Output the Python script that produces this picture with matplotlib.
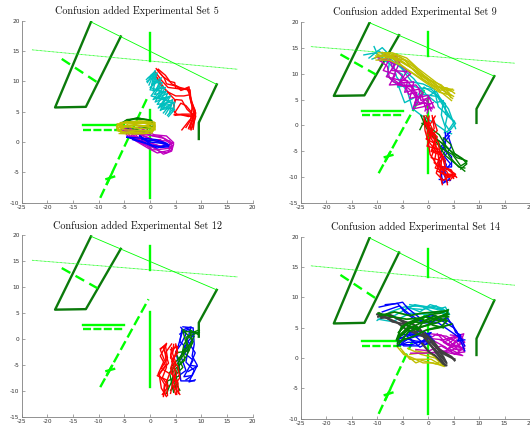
import matplotlib
matplotlib.use('Agg')
from matplotlib import pyplot as plt

plt.rcParams['axes.unicode_minus'] = False

#======================================================
#! scene lines, the same in all four panels
wall_left_x = [-11.5, -18.5, -12.5, -5.7]
wall_left_y = [19.8, 5.7, 5.8, 17.4]
wall_right_x = [13, 9.5, 9.5]
wall_right_y = [9.5, 3.2, 0.5]
thin_x = [-11.5, 13]
thin_y = [19.8, 9.5]
dotted_x = [-23, 17]
dotted_y = [15.2, 12]
centre_top_x = [0, 0]
centre_top_y = [18, 13.4]
centre_low_x = [0, 0]
centre_low_y = [5.2, -9.2]
solid_bar_x = [-13, -5]
solid_bar_y = [2.8, 2.8]
dash_bar_x = [-13, -5]
dash_bar_y = [2, 2]
dash_diag_x = [-9.7, -0.3]
dash_diag_y = [-9.2, 7.7]
dash_upper_x = [-17.2, -10.2]
dash_upper_y = [13.7, 9.8]
cross_x = [-8.5, -7]
cross_y = [-6.1, -5.7]
cross_stem_x = [-8.4, -7.4]
cross_stem_y = [-6.9, -5.1]

#======================================================
#! tracks, set 5
s5_red = [
    [(1.2, 12.1), (2.5, 10.8), (3.8, 10), (4.8, 9.8), (5, 8.9), (6.5, 8.7), (7.6, 9.1), (7.8, 7.2), (8.8, 5.2), (8.3, 3.6), (7.5, 2.2)],
    [(1.4, 11.9), (2.8, 10.5), (3.2, 9.6), (5.2, 9.2), (6, 8.5), (7.4, 8.9), (7.9, 6.8), (8.9, 4.8), (8.6, 3.2), (8.4, 2.1)],
    [(1, 11.6), (2.2, 10.2), (3.5, 9), (5.4, 8.8), (7.8, 8.6), (8, 6.5), (8.6, 4.5), (7.5, 3.4), (6.2, 2)],
    [(0.9, 11.2), (3, 8.6), (4.8, 7), (4.6, 5.2), (5.2, 4.6), (7.2, 4.4), (8.4, 4.2), (7.6, 2.4)],
    [(4.6, 6), (5, 7), (6.2, 6.9), (7.2, 5.4), (8.2, 4.6), (8.8, 4.4)],
    [(4.8, 4.8), (6, 6.4), (7, 6), (8, 5), (8.6, 3.8), (8, 2)],
    [(4.7, 4.5), (6, 4.5), (7.5, 4.2), (8.7, 4.4)],
    [(1.6, 12), (3, 11), (4.2, 9.6), (5.8, 9), (7.2, 8.7), (7.7, 8), (8.5, 5.6), (8.9, 4.2), (8.2, 2.4)],
    [(1.1, 11), (2, 9.4), (3.6, 8.2), (5, 7.6), (6.6, 7.6), (7.8, 7.8), (8.2, 5.8), (7.9, 3.6), (7, 2.4)],
    [(4.9, 4.4), (6.2, 4.6), (7.8, 4.6), (8.8, 4.7), (8.1, 3.2), (7.8, 2.1)],
]
s5_cyan = [
    [(-0.7, 10.3), (0.9, 11.6), (0.3, 9.4), (2.2, 10.6), (1.2, 8.6), (3, 9), (1.6, 7.2), (3.6, 7.4), (2, 6), (4.2, 6.2), (3, 4.6)],
    [(-0.5, 9.8), (0.5, 11.2), (1.2, 11), (0.6, 8.4), (2.6, 9.2), (1, 6.6), (4, 7.6), (2.4, 5.4), (4.6, 5.6), (3.4, 4.4)],
    [(-0.3, 10.6), (1.4, 11.4), (0, 8.6), (2, 8.4), (0.6, 7), (3.4, 8), (2, 5.2), (4.8, 6.6), (4.4, 5)],
    [(-0.6, 10), (0.8, 10.8), (1.8, 9.4), (0.2, 7.6), (2.8, 7), (1.6, 5.6), (4.4, 7), (3.8, 4.8)],
    [(-0.2, 9.4), (1, 11.8), (0.5, 10), (2.4, 9.8), (0.8, 7.8), (3.2, 8.4), (1.4, 6.2), (4.4, 6.6), (2.6, 4.8)],
    [(0.2, 11), (1.6, 10), (0, 9), (2.8, 8.2), (1.2, 7.2), (3.8, 6.8), (2.2, 5.8), (4.8, 5.4), (3.6, 4.2)],
]
s5_olive = [
    [(-6.4, 2.2), (-5, 3.2), (-2.5, 3.3), (0, 3.2), (1, 2.6), (0.6, 1.8), (-2, 1.6), (-5, 1.6), (-6.4, 2.2)],
    [(-6.5, 2.6), (-4.6, 3.4), (-1.5, 3.1), (0.9, 3), (0.9, 2.2), (-1, 1.4), (-4, 1.5), (-6.2, 1.8), (-6.5, 2.6)],
    [(-6.2, 3), (-3.5, 3.2), (-0.5, 3.4), (1, 2.8), (0, 1.9), (-3, 1.8), (-5.6, 1.5), (-6.4, 2.4)],
    [(-6, 2.4), (-3, 2.9), (0.8, 2.4), (-2, 2.2), (-6.2, 2.8)],
    [(-6.4, 1.9), (-4, 2.7), (-1, 2.7), (1, 3.2), (0.4, 1.5), (-3, 1.3), (-6, 1.4)],
    [(-5.8, 3.2), (-2, 3.5), (0.8, 3.3), (1, 2), (-1.6, 1.9), (-5, 2), (-6.4, 3)],
    [(-6.3, 2.7), (-3, 2.4), (0.6, 2.9), (-1, 3.1), (-4.2, 3), (-6, 2)],
]
s5_green = [
    [(-6, 2.8), (-4.5, 3.7), (-2, 3.9), (0.3, 3.6), (0.8, 2.7), (-1, 2.2), (-4, 2.4), (-6, 2.8)],
    [(-5.5, 3.2), (-3, 3.8), (-0.6, 3.7), (0, 2.6), (-3, 2), (-5.5, 2.4)],
    [(-4.8, 3.5), (-2.5, 4), (0.4, 3.4), (-0.8, 1.7), (-3.6, 1.8), (-4.6, 1.4)],
]
s5_magenta = [
    [(-5.8, 2.5), (-4, 1.6), (-2, 0.4), (0, -0.6), (1.8, -1.5), (3.2, -1.8), (4.3, -1.2), (3.6, -0.6), (1.5, 0), (-0.5, 0.8), (-3, 1.6), (-5.8, 2.5)],
    [(-5.2, 2.2), (-3.4, 0.6), (-1.2, -0.4), (1, -1), (2.6, -2), (4.2, -1.5), (4.6, -0.3), (2.8, 0.6), (0.5, 1), (-2, 1.8), (-5.2, 2.2)],
    [(-4.2, 2.6), (-2.5, 0.9), (0.2, -0.2), (2.4, -0.8), (4.6, -0.1), (3.2, 1), (0.8, 1.2), (-2.2, 2.4)],
    [(-3.6, 1), (-1.6, 0), (0.5, -1.3), (2, -1.2), (4, -1), (2, 0.4), (-0.5, 0.3), (-3.6, 1)],
    [(-4.6, 1.2), (-2.8, 0.2), (-0.4, -1), (1.4, -1.8), (3.6, -1.4), (4.4, -0.6), (2.2, 0.9), (-1, 1.2), (-5.4, 1.8)],
    [(-5.6, 2), (-2, 1.2), (1, 0.2), (3.8, 0.2), (4.2, -0.8), (1.6, -0.6), (-1.4, 0.2), (-4, 0.8)],
]
s5_blue = [
    [(-4.5, 0.8), (-2, 0.2), (0, -0.4), (2, -0.9), (3.6, -0.8), (3.2, -0.2), (1.2, 0.4), (-1, 0.6), (-4.5, 0.8)],
    [(-2, 1), (0, 0), (2.2, -0.2), (3.8, -0.5), (2.4, -0.8), (0.4, -0.6), (-2, 1)],
    [(-3.4, 0.4), (-1, -0.2), (1.4, -1), (3.4, -0.3), (1, 0.2), (-1.6, 0.4)],
]

#! tracks, set 9
s9_olive = [
    [(-10.5, 13), (-8, 14), (-5.5, 13.2), (-3, 11.4), (-0.5, 9.4), (2, 7.4), (4.5, 6.6)],
    [(-10.3, 13.4), (-7.5, 13.4), (-5, 12.2), (-2.5, 10.6), (0, 8.6), (2.4, 6.8), (4.8, 7)],
    [(-9.8, 14), (-7, 14), (-4.2, 13), (-2, 11), (0.4, 9.2), (2.8, 7.4), (5, 6.8)],
    [(-10.2, 12.6), (-7.6, 12.6), (-5, 11.4), (-3, 10), (-0.4, 8.2), (2.2, 6.4), (4.6, 5.8)],
    [(-9.6, 13.2), (-6.4, 13.6), (-3.6, 12.2), (-1, 9.8), (1.4, 8), (3.4, 6.4), (4.8, 5.2)],
    [(-9, 14.1), (-6, 13), (-3.4, 11.2), (-0.8, 8.8), (1.8, 7), (3.6, 5.6), (4.6, 4.8)],
    [(-10, 13.7), (-6.8, 12.8), (-4.4, 11), (-1.6, 9.2), (1, 7.6), (3.8, 7.2), (5.2, 6.2)],
    [(-9.4, 12.8), (-7, 13.2), (-4.6, 12.6), (-2.2, 10), (0.8, 8.4), (3, 6.8), (5, 5.6)],
    [(-8.4, 13.8), (-5.6, 12.4), (-2.8, 10.8), (-0.2, 9), (2.6, 7.8), (4.2, 6.2), (4.4, 5.4)],
]
s9_magenta = [
    [(-10, 13.2), (-7.8, 12.4), (-8.8, 10.6), (-6.4, 9.8), (-7.6, 7.8), (-4.6, 8), (-3.8, 6), (-2.2, 6.4), (-2.6, 3.8), (-0.6, 4.4), (0.8, 3.2)],
    [(-9.2, 13.4), (-6, 13.2), (-7.2, 10.6), (-4.2, 10.4), (-5.6, 8.2), (-2.8, 8.4), (-3.6, 5.2), (-1.2, 5.8), (-0.4, 3), (1, 3.6)],
    [(-8.4, 12.8), (-6.4, 11.8), (-8.2, 9.4), (-5.8, 8.8), (-4, 8.6), (-4.6, 6.4), (-1.8, 7), (-1.4, 4.8), (0.2, 5.4), (-0.6, 2.8)],
    [(-9.4, 12.4), (-6.8, 13.6), (-5.2, 11.4), (-3.4, 10), (-6, 7.8), (-3, 7.4), (-2, 5.4), (0, 5.8), (1.2, 3.4)],
    [(-8.6, 13.8), (-5.4, 12.6), (-7, 9), (-5, 7.6), (-2.4, 7.8), (-1, 6.2), (-2.6, 4.4), (0.4, 4.2), (-0.2, 2.4)],
    [(-9.8, 12.8), (-8, 11.4), (-7.6, 9.2), (-6.8, 8.4), (-4.2, 7.4), (-3.2, 6.6), (-1.6, 4.2), (-0.4, 5), (0.6, 2.8)],
    [(-7.8, 13.6), (-7, 11.2), (-5.6, 10), (-4.8, 9.2), (-3.6, 8), (-2.2, 5.4), (-3, 3.2), (-1, 3.6), (1, 4.4)],
]
s9_cyan = [
    [(-10.6, 15.2), (-9.6, 13), (-7.6, 12), (-8, 9.6), (-5.8, 7.6), (-4.6, 4.4), (-2.2, 5.6), (-0.8, 7.4), (1.4, 6), (3.4, 4.2), (3.4, 2.2), (5.2, 0.8), (3.8, -1.2)],
    [(-12.6, 13.6), (-10.4, 14), (-8.2, 12.6), (-6.6, 10.8), (-5, 9.8), (-6, 7.4), (-3.8, 7.8), (-1.6, 7.2), (0.6, 7), (2.4, 5.2), (4, 3.2), (5.4, -0.6)],
    [(-11.6, 13), (-10.6, 13.8), (-9, 15), (-7.2, 13.2), (-4.4, 10.4), (-2.8, 9), (-0.4, 6), (1.6, 4.4), (3, 4.8), (2.6, 2), (3.4, -0.4), (3.2, -1.4)],
    [(-3, 3.2), (-1.4, 2), (1, 0.6), (3.6, -1.2), (4.6, -1.6)],
    [(0, 5.6), (1.6, 6.6), (2.8, 4.4), (4, 1.8), (5.4, 0.4), (4.4, -0.8)],
    [(-11, 12.8), (-8.8, 13.6), (-6.8, 11.8), (-6.2, 9.4), (-4, 6.4), (-3, 3), (-1.4, 6), (1.8, 5.6), (3.6, 2.8), (4.6, 1.2)],
    [(-9.8, 14.4), (-7.4, 12.8), (-5.2, 11), (-3.2, 8.4), (-1, 8), (1.2, 7), (2, 3.6), (3.8, 2), (3.4, 0.2), (4.2, -1)],
]
s9_green = [
    [(-1.4, 1.9), (-0.4, -0.4), (0.8, -2), (2.2, -3), (4, -4.6), (6, -6), (7.6, -7)],
    [(-1.6, -0.8), (-0.8, 0.8), (1.2, -1.6), (2.6, -4.4), (4.8, -5.6), (6.4, -7.8), (7.4, -7.2)],
    [(-0.8, 1.8), (0.4, -1), (1.6, -3.2), (3.4, -5.8), (5.4, -7.4), (7.2, -8.8)],
    [(-1.2, 0.4), (0.6, -0.6), (2.2, -1.8), (3.4, -3.8), (5.6, -6.2), (7.6, -6.8)],
    [(-0.6, 1), (1.4, -2.6), (2.8, -3.4), (4.2, -6), (6, -8), (7.2, -8.2)],
    [(3, -2.4), (4.4, -3.6), (5.2, -5.4), (6.8, -6.4), (7.6, -7.4), (6.4, -8.4)],
]
s9_blue = [
    [(4.4, -1.2), (3, -2.6), (3.4, -5), (2, -6.6), (2.6, -9), (2.8, -11.2), (4.2, -10.4)],
    [(3.8, -1.6), (4.6, -4), (3.2, -6), (4.4, -7.4), (3, -9.2), (3.8, -11)],
    [(4.2, -2), (2.6, -4), (4.6, -6), (4.6, -8), (2.6, -8), (4.4, -10.6), (2.2, -10.4)],
    [(3.4, -1.4), (3.4, -3.6), (2.4, -5.4), (3.6, -7.6), (2.4, -9.8), (3.2, -10.8)],
]
s9_red = [
    [(-0.8, 1.8), (-0.6, -1), (0, -3), (0.4, -5.6), (1.6, -7.4), (2.4, -9), (4, -10), (5.4, -9.8)],
    [(-0.4, 1.9), (0.8, -0.6), (0.2, -3.2), (1.6, -5), (1.2, -7.2), (2.8, -8.4), (3.6, -10.4), (3.8, -11.4)],
    [(0.8, 1.9), (1.2, -0.6), (-0.4, -2.6), (1.6, -3.6), (0.6, -6.2), (2.6, -6.8), (2.4, -9.8), (2.8, -11.4)],
    [(1.4, 1.8), (0, -0.4), (1.8, -2.2), (0.8, -4.8), (2.6, -5.4), (3.4, -8.2), (4.8, -9.2), (5.6, -10)],
    [(-0.6, 0.8), (0.4, -2), (2, -3.2), (2.4, -6), (1.4, -8.2), (3.6, -8.8), (4.2, -9.8), (1.8, -8.8)],
    [(0.2, 1.8), (-0.2, -1.6), (1.4, -1.8), (1, -4), (3, -6), (2, -7.6), (4.6, -8.6), (5, -10.2)],
    [(-0.8, 1.2), (0.6, -1.4), (-0.2, -4), (2.2, -4.6), (3.4, -6.8), (3, -9.4), (5.2, -9.4), (3.4, -10.2)],
    [(1, 1.4), (1.8, -1), (0.4, -2.2), (1.8, -4.4), (2.2, -7.2), (1.6, -9.2), (3, -10.6), (4.4, -9.6)],
    [(-0.2, 0.6), (1.4, -2.8), (0.6, -5), (2.8, -5.8), (2.4, -8.2), (4, -8.4), (5.4, -9.4), (4.2, -10.6)],
]

#! tracks, set 12
s12_blue = [
    [(6, 2.3), (7, 1), (6, -1), (5, -2.4), (5.6, -4.8), (6, -8), (8.6, -8)],
    [(6.4, 2.4), (8.4, 2.2), (8.6, -1), (8.2, -3.2), (9.2, -5), (8.2, -7), (7, -7.8)],
    [(6.2, 1.8), (5.8, -0.4), (7.4, -2), (7, -4.4), (8.6, -6), (7.6, -8.2), (8.8, -7.8)],
    [(7, 2.2), (8.6, 1), (7.4, -0.4), (8.8, -2.6), (7.8, -5), (9.2, -5.2), (7.4, -6.2)],
    [(5.4, -1.6), (6.4, 1.8), (8, 2.4), (7, -1), (6, -3.2), (7, -6), (5.6, -7)],
    [(5.8, 1), (7.6, 2), (8.2, 0), (6.6, -2.6), (8.4, -4), (6.6, -7.2), (8, -7)],
]
s12_green = [
    [(9.4, 1.2), (6.4, 1.6), (7.2, -1.4), (5.8, -3.6), (5.2, -6.2), (3.8, -9), (3.2, -10.4)],
    [(9.6, 1.8), (8, 1.2), (6.6, -1), (6.2, -3), (4.2, -5.2), (4.6, -8.2), (5.2, -10)],
    [(9.4, 0.9), (7.8, 1.8), (8.2, -0.8), (6.8, -2.6), (5.4, -4.6), (3.8, -6.4), (4.6, -10.2)],
    [(6.4, 1.9), (8.4, -0.4), (7, -3.4), (5.6, -5), (5.8, -7), (3.4, -8), (3.4, -10)],
    [(9.6, 1.4), (7, 0.4), (7.6, -2.2), (5, -2.6), (6.4, -5.4), (4.4, -7.4), (5.8, -9.8)],
    [(8.6, 0.6), (7.8, -1), (6.4, -2.2), (6.8, -4), (4.8, -5.8), (5.4, -8.6), (4, -9.8)],
]
s12_red = [
    [(3.2, -0.8), (2, -2), (2.8, -4), (1.6, -6.6), (2.8, -8.6), (2.6, -11)],
    [(4.2, -0.9), (3, -2.6), (3.6, -4.6), (1.4, -7), (3.2, -7.8), (3.4, -10.8)],
    [(5, -1.2), (4, -3), (4.8, -4.6), (4, -6.4), (5.4, -8.2), (5.6, -10.4)],
    [(5, -0.9), (5.4, -2.6), (4.2, -4.2), (5.2, -6.6), (4.4, -8.6), (5, -10.6)],
    [(3, -1.2), (3.4, -3.6), (2.2, -5.6), (3.8, -6.6), (2.8, -9.4), (3, -10.8)],
    [(4.2, -1.6), (4, -3.6), (5.4, -5.2), (5.8, -7.4), (4.6, -9), (5.8, -10.6)],
    [(2, -1.8), (3.2, -1), (2, -3.2), (3, -5), (1.8, -6.8), (2.2, -9.4), (3.2, -11)],
    [(4, -2), (5.4, -1.4), (4.6, -3.8), (4, -5.6), (4.6, -7.4), (4, -10.4)],
    [(2.6, -1.4), (3, -3), (3.2, -5.4), (2.4, -7.4), (3.6, -9), (2.4, -10.6)],
    [(4.6, -1), (4.4, -2.8), (5, -4.4), (4.6, -6.2), (5.2, -9.4), (5.2, -10.6)],
]

#! tracks, set 14
s14_cyan = [
    [(-10, 6.2), (-7.4, 7.6), (-4.8, 8.4), (-2, 8.6), (0.8, 8.4), (3.6, 7.8)],
    [(-9.6, 7), (-6.6, 7), (-4, 8.2), (-1, 8), (1.6, 8.6), (3.8, 7)],
    [(-9.8, 6.4), (-7, 6), (-3.4, 7.4), (-0.4, 7.2), (2.4, 7.8), (4, 6.4)],
    [(-4.4, 8.6), (-1.6, 7.6), (0.4, 8.8), (2.8, 8.2), (3.8, 7.4)],
    [(-5, 7.8), (-2.6, 8.8), (-0.2, 8.4), (1.8, 8), (3.4, 8.4), (4.2, 7.2)],
    [(-3.6, 8.8), (-1, 8.4), (1, 7.6), (3, 7.4), (4, 8)],
]
s14_blue = [
    [(-9.6, 8.4), (-7.4, 8.8), (-5, 9.2), (-4, 8.2), (-1.6, 6.6), (1, 7), (3, 6), (5, 5), (6.4, 3.4), (7.2, 2)],
    [(-9, 7.6), (-5.6, 8.6), (-3.6, 7.2), (-1, 5.8), (2, 5.8), (4.4, 4.4), (6.8, 3)],
    [(-8.4, 8.8), (-6, 9), (-4.6, 7.6), (-2.4, 6.2), (0.8, 6), (3.8, 6.6), (5.6, 4.4), (7.2, 1.2)],
    [(-6, 3), (-3.6, 4), (-1, 3.6), (0.4, 3.4), (-1.4, 2.6), (-4, 2.6), (-6, 2)],
    [(-5.8, 2.6), (-3, 3.4), (0.6, 4.2), (-2, 2), (-4.8, 2), (-5.8, 3)],
    [(-5.6, 3.4), (-2.4, 2.8), (0.2, 2.6), (-1.6, 1.8), (-4.2, 3.6), (-1, 4.2)],
    [(-6, 2.2), (-3.2, 2.2), (-0.4, 3), (0.6, 3.6), (-2.6, 4), (-5.4, 3.8), (-6, 2.8)],
    [(-5.2, 2.4), (-2.8, 3.8), (-0.6, 2.2), (1.2, 2.8), (-0.8, 4.4), (-4, 4.2)],
    [(3.4, 6.4), (4.8, 5.6), (5.4, 4.2), (6.4, 3.8), (5.8, 2.8), (7.2, 3)],
]
s14_magenta = [
    [(-1.2, 2.4), (1.4, 3.8), (3.6, 3.6), (5.6, 2.6), (7.2, 1), (5, 0.8), (2.6, 2), (0.2, 1.2), (-2.4, 1.4)],
    [(0.6, 3.2), (3, 3), (4.6, 3.4), (7, 4), (6.2, 2.2), (4.6, 1.2), (2, 1), (-0.6, 0.8), (-3.4, 0.8)],
    [(1.8, 4), (3.8, 2.2), (5.8, 3.6), (7.2, 2.6), (4, 1.6), (6.8, 0.4), (3.2, 1), (1, 2.2)],
    [(2.4, 3), (4.8, 2), (7.2, 1.6), (5.4, 1.4), (3, 2.6), (5.2, 3.4), (6.8, 3.2)],
    [(0.4, 4), (2.6, 3.8), (4.2, 2.8), (6, 1.2), (7.2, 2), (5.6, 3), (3.6, 1.2), (1.4, 0.8)],
    [(1.2, 2.8), (3.4, 1.8), (5.2, 0.6), (7, 1.6), (5, 2.2), (6.6, 3.6), (4.4, 3.8)],
]
s14_olive = [
    [(-6, 1.8), (-4.8, 0.6), (-3, 0), (-1, -0.8), (1, -0.8), (3.2, -1.4), (1.4, 0), (-1.4, 0.6), (-4, 1.6)],
    [(-5.4, 1.6), (-3.6, -0.2), (-1.4, -0.2), (0.6, -0.2), (2.6, -1.2), (3.4, -1.2), (0.8, 0.6), (-2.4, 1.2)],
    [(-5, 1), (-2.4, -0.8), (-1.2, -0.4), (1.6, -1), (2.4, -0.4), (0, 1), (-3.6, 0.6)],
]
s14_green = [
    [(-6, 2.4), (-5.6, 4.4), (-4, 5.8), (-1.6, 6.6), (0.6, 7.2), (2.4, 7.4), (3.9, 7.9)],
    [(-6.2, 3), (-5.2, 5.2), (-3, 6), (-0.8, 5.8), (1.2, 6.4), (3.8, 7.4)],
    [(-5.8, 3.6), (-4.2, 4.8), (-2.4, 5.4), (0, 6.4), (2.8, 6.8), (4, 6.8)],
    [(-9.8, 7.4), (-7, 6.8), (-4.2, 6.4), (-1.6, 6.6), (1, 5.4), (3, 5)],
    [(-6, 2), (-3.8, 4.4), (-1, 5.2), (1.6, 5.8), (3.4, 6.4), (3.8, 7.6)],
    [(-5.6, 2.8), (-2.8, 3.6), (-0.4, 4.6), (2.2, 5), (4.6, 5.6)],
    [(-9.4, 7), (-6.6, 7.6), (-3.6, 7), (-1.2, 7.4), (1.6, 7.6), (3.8, 7.8)],
    [(-6, 3.2), (-4.8, 4), (-3.2, 5.2), (-1.8, 5), (0.4, 5.6), (2, 6.8), (4, 7.2)],
    [(-5.8, 4.2), (-4.4, 5.6), (-2, 4.6), (-1, 6), (1.4, 7), (3.2, 6.2)],
    [(-5.4, 3.8), (-3.4, 5.6), (-0.6, 6.8), (2.2, 6.2), (3.8, 6.2), (2.6, 5.2), (0.4, 4.8)],
]
s14_grey = [
    [(-10, 7.2), (-8, 6.6), (-6, 5.8), (-4.4, 4.8), (-2.8, 4.2), (-1, 3.6), (0.6, 2), (2, 0.4), (3.4, -1.2)],
    [(-9.8, 6.8), (-7.6, 7.2), (-5.4, 6.2), (-3.4, 5), (-2, 4), (0, 3.4), (1.6, 1.8), (3, 0.2), (3.6, -0.8)],
    [(-9.6, 7.4), (-7, 6), (-4.8, 5.6), (-2.6, 4.8), (-0.6, 4), (1.2, 2.6), (2.8, 0.8), (5.2, -0.2)],
    [(-1.2, 2.4), (0.2, 1), (1.4, 0.4), (3, -1), (3.6, -1.2)],
    [(0.4, 2.8), (1.8, 1.6), (3.4, 0.8), (4.6, 0.2), (5.2, -0.4)],
    [(-9.2, 6.6), (-6.8, 6.8), (-4.6, 6), (-3, 5.6), (-1.6, 4.8), (0.2, 2.4), (1.8, 1), (3.4, -0.6)],
]

#======================================================
#! panels
titles = ['Confusion added Experimental Set 5', 'Confusion added Experimental Set 9',
          'Confusion added Experimental Set 12', 'Confusion added Experimental Set 14']
y_limits = [(-10, 20), (-15, 20), (-15, 20), (-10, 20)]
panel_tracks = [
    [('#ff0000', s5_red), ('#00bfbf', s5_cyan), ('#007f00', s5_green), ('#bf00bf', s5_magenta), ('#0000ff', s5_blue), ('#bfbf00', s5_olive)],
    [('#00bfbf', s9_cyan), ('#bf00bf', s9_magenta), ('#bfbf00', s9_olive), ('#0000ff', s9_blue), ('#007f00', s9_green), ('#ff0000', s9_red)],
    [('#0000ff', s12_blue), ('#007f00', s12_green), ('#ff0000', s12_red)],
    [('#bfbf00', s14_olive), ('#00bfbf', s14_cyan), ('#bf00bf', s14_magenta), ('#0000ff', s14_blue), ('#404040', s14_grey), ('#007f00', s14_green)],
]
# left, bottom, width, height in figure fractions
boxes = [(21.7/530, 1-202.7/433, 231/530, 182/433),
         (300.7/530, 1-203.3/433, 229.3/530, 181.6/433),
         (21.7/530, 1-417.3/433, 231/530, 182/433),
         (300.7/530, 1-418.7/433, 229.3/530, 182/433)]

fig = plt.figure(figsize=(5.3, 4.33), dpi=100)
lime = '#00ff00'
dark = '#0b7a0b'
thick = 1.7

for i in range(4):
    ax = fig.add_axes(boxes[i])
    ax.plot(wall_left_x, wall_left_y, color=dark, lw=thick)
    ax.plot(wall_right_x, wall_right_y, color=dark, lw=thick)
    ax.plot(thin_x, thin_y, color=lime, lw=0.6)
    ax.plot(dotted_x, dotted_y, color=lime, lw=0.6, ls=(0, (1, 0.6)))
    ax.plot(centre_top_x, centre_top_y, color=lime, lw=thick)
    ax.plot(centre_low_x, centre_low_y, color=lime, lw=thick)
    ax.plot(solid_bar_x, solid_bar_y, color=lime, lw=thick)
    ax.plot(dash_bar_x, dash_bar_y, color=lime, lw=thick, ls=(0, (3.4, 1.0)))
    ax.plot(dash_diag_x, dash_diag_y, color=lime, lw=thick, ls=(0, (4.2, 1.8)))
    ax.plot(dash_upper_x, dash_upper_y, color=lime, lw=thick, ls=(0, (4.2, 2.5)))
    ax.plot(cross_x, cross_y, color=lime, lw=thick)
    ax.plot(cross_stem_x, cross_stem_y, color=lime, lw=thick)

    for colour, tracks in panel_tracks[i]:
        # the grey and green runs of set 14 are drawn heavier
        width = 1.0
        if colour == '#404040':
            width = 1.5
        if i == 3 and colour == '#007f00':
            width = 1.3
        for t in tracks:
            ax.plot([p[0] for p in t], [p[1] for p in t], color=colour, lw=width)

    ax.set_xlim(-25, 20)
    ax.set_ylim(*y_limits[i])
    ax.set_xticks(range(-25, 21, 5))
    ax.set_yticks(range(y_limits[i][0], 21, 5))
    ax.spines['top'].set_visible(False)
    ax.spines['right'].set_visible(False)
    ax.spines['left'].set_color('#808080')
    ax.spines['bottom'].set_color('#808080')
    ax.spines['left'].set_linewidth(0.6)
    ax.spines['bottom'].set_linewidth(0.6)
    ax.tick_params(direction='in', length=2, width=0.5, color='#808080', labelsize=4.2,
                   labelcolor='#333333', pad=1.5)
    ax.patch.set_alpha(0)
    ax.set_title(titles[i], family='cmr10', fontsize=7.3, color='#111111', pad=4.5)

fig.savefig('out.png', dpi=100)
